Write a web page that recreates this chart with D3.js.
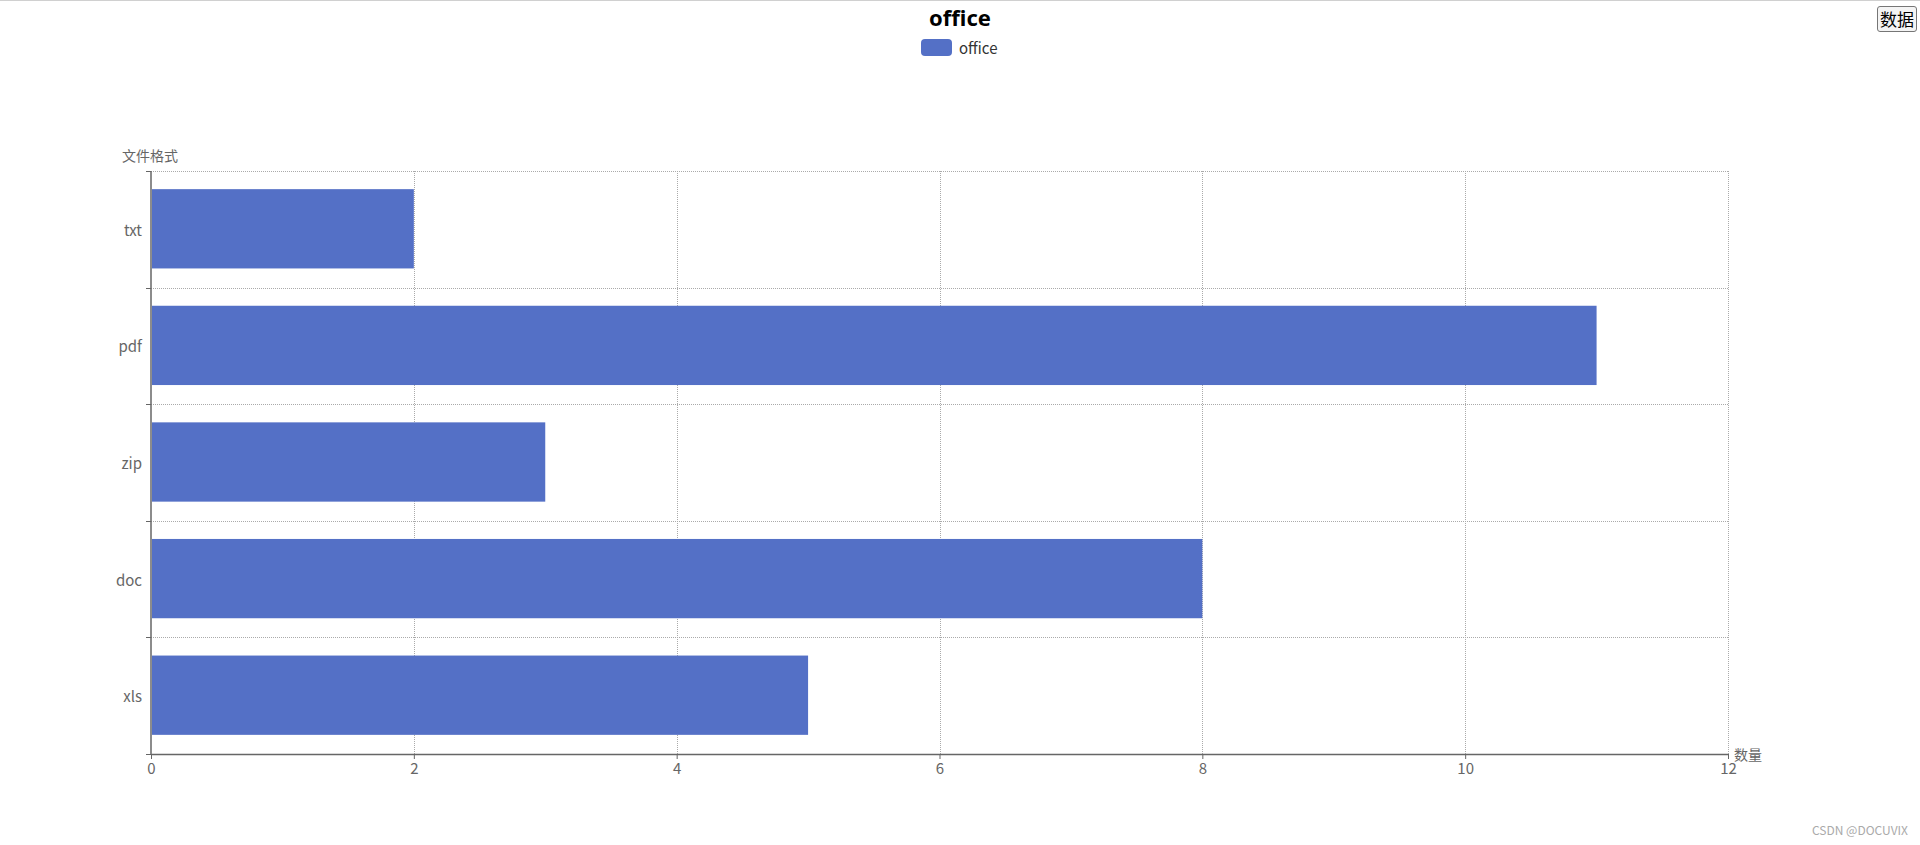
<!DOCTYPE html>
<html>
<head>
<meta charset="utf-8">
<script src="https://cdn.jsdelivr.net/npm/d3@7"></script>
<style>
  html, body { margin: 0; padding: 0; background: #fff; }
  body { width: 1920px; height: 845px; overflow: hidden; position: relative; border-top: 1px solid #d0d0d0; box-sizing: border-box; }
  #chart { position: absolute; left: 0; top: 0; }
  #dataBtn { position: absolute; left: 1877px; top: 5px; height: 26px; padding: 0 2px; font-size: 17px;
    font-family: "Noto Sans CJK SC", sans-serif; background: #f4f4f4; border: 1px solid #767676; border-radius: 3px; line-height: 22px; }
</style>
</head>
<body>
<div id="chart"></div>
<button id="dataBtn">数据</button>
<script>
var CATEGORIES = ["txt", "pdf", "zip", "doc", "xls"];
var VALUES = [2, 11, 3, 8, 5];
var X_TICKS = [0, 2, 4, 6, 8, 10, 12];
var SERIES_NAME = "office";

var W = 1920, H = 845;
var MARGIN = {top: 170, right: 192, bottom: 92, left: 151};
var FONT = "'Noto Sans CJK SC', 'Noto Sans', sans-serif";
var LABEL = "#666";

var svg = d3.select("#chart").append("svg").attr("width", W).attr("height", H);

var x = d3.scaleLinear().domain([0, 12]).range([MARGIN.left, W - MARGIN.right]);
var y = d3.scaleBand().domain(CATEGORIES).range([MARGIN.top, H - MARGIN.bottom]);
var barH = y.bandwidth() * 0.68;

// grid lines (dotted)
var grid = svg.append("g").attr("stroke", "#aaa").attr("stroke-dasharray", "1,1");
grid.selectAll(".vg").data(X_TICKS.slice(1)).enter().append("line")
  .attr("x1", d => Math.round(x(d)) + 0.5).attr("x2", d => Math.round(x(d)) + 0.5)
  .attr("y1", MARGIN.top).attr("y2", H - MARGIN.bottom);
grid.selectAll(".hg").data(CATEGORIES).enter().append("line")
  .attr("x1", MARGIN.left).attr("x2", W - MARGIN.right)
  .attr("y1", d => Math.round(y(d)) + 0.5).attr("y2", d => Math.round(y(d)) + 0.5);

// bars
svg.append("g").selectAll("rect").data(CATEGORIES).enter().append("rect")
  .attr("x", x(0) + 1)
  .attr("y", d => y(d) + (y.bandwidth() - barH) / 2 - 0.5)
  .attr("width", (d, i) => x(VALUES[i]) - x(0) - 1)
  .attr("height", barH)
  .attr("fill", "#5470c6");

// x axis
var xAxis = svg.append("g")
  .attr("transform", "translate(0," + (H - MARGIN.bottom) + ")")
  .call(d3.axisBottom(x).tickValues(X_TICKS).tickSize(5).tickPadding(4).tickSizeOuter(0));
xAxis.select(".domain").attr("stroke", "#666").attr("stroke-width", 1.5);
xAxis.selectAll(".tick line").attr("stroke", "#666");
xAxis.selectAll("text").attr("fill", LABEL).style("font-size", "15px").style("font-family", FONT);

// y axis: ticks at band boundaries
var yAx = svg.append("g");
yAx.append("line").attr("x1", MARGIN.left).attr("x2", MARGIN.left)
  .attr("y1", MARGIN.top).attr("y2", H - MARGIN.bottom)
  .attr("stroke", "#666").attr("stroke-width", 1.5);
var bounds = CATEGORIES.map(d => y(d)).concat([H - MARGIN.bottom]);
yAx.selectAll(".yt").data(bounds).enter().append("line")
  .attr("x1", MARGIN.left - 5).attr("x2", MARGIN.left)
  .attr("y1", d => Math.round(d) + 0.5).attr("y2", d => Math.round(d) + 0.5)
  .attr("stroke", "#666");
yAx.selectAll(".yl").data(CATEGORIES).enter().append("text")
  .attr("x", MARGIN.left - 9).attr("y", d => y(d) + y.bandwidth() / 2)
  .attr("text-anchor", "end").attr("dominant-baseline", "central")
  .attr("fill", LABEL).style("font-size", "15px").style("font-family", FONT)
  .text(d => d);

// axis names
svg.append("text").attr("x", 122).attr("y", 160).attr("fill", LABEL)
  .style("font-size", "14px").style("font-family", FONT).text("文件格式");
svg.append("text").attr("x", W - MARGIN.right + 6).attr("y", H - MARGIN.bottom).attr("dominant-baseline", "central")
  .attr("fill", LABEL).style("font-size", "14px").style("font-family", FONT).text("数量");

// title
svg.append("text").attr("x", 960).attr("y", 25).attr("text-anchor", "middle")
  .style("font-size", "22px").style("font-weight", "bold").style("font-family", "'Noto Sans', sans-serif")
  .attr("fill", "#000").text(SERIES_NAME);

// legend
svg.append("rect").attr("x", 921).attr("y", 38).attr("width", 31).attr("height", 17)
  .attr("rx", 4).attr("fill", "#5470c6");
svg.append("text").attr("x", 959).attr("y", 46).attr("dominant-baseline", "central")
  .attr("fill", "#333").style("font-size", "15px").style("font-family", FONT).text(SERIES_NAME);

// watermark
svg.append("text").attr("x", 1908).attr("y", 828).attr("text-anchor", "end").attr("dominant-baseline", "central")
  .attr("fill", "#aaa").style("font-size", "12px").style("font-family", FONT).text("CSDN @DOCUVIX");
</script>
</body>
</html>
